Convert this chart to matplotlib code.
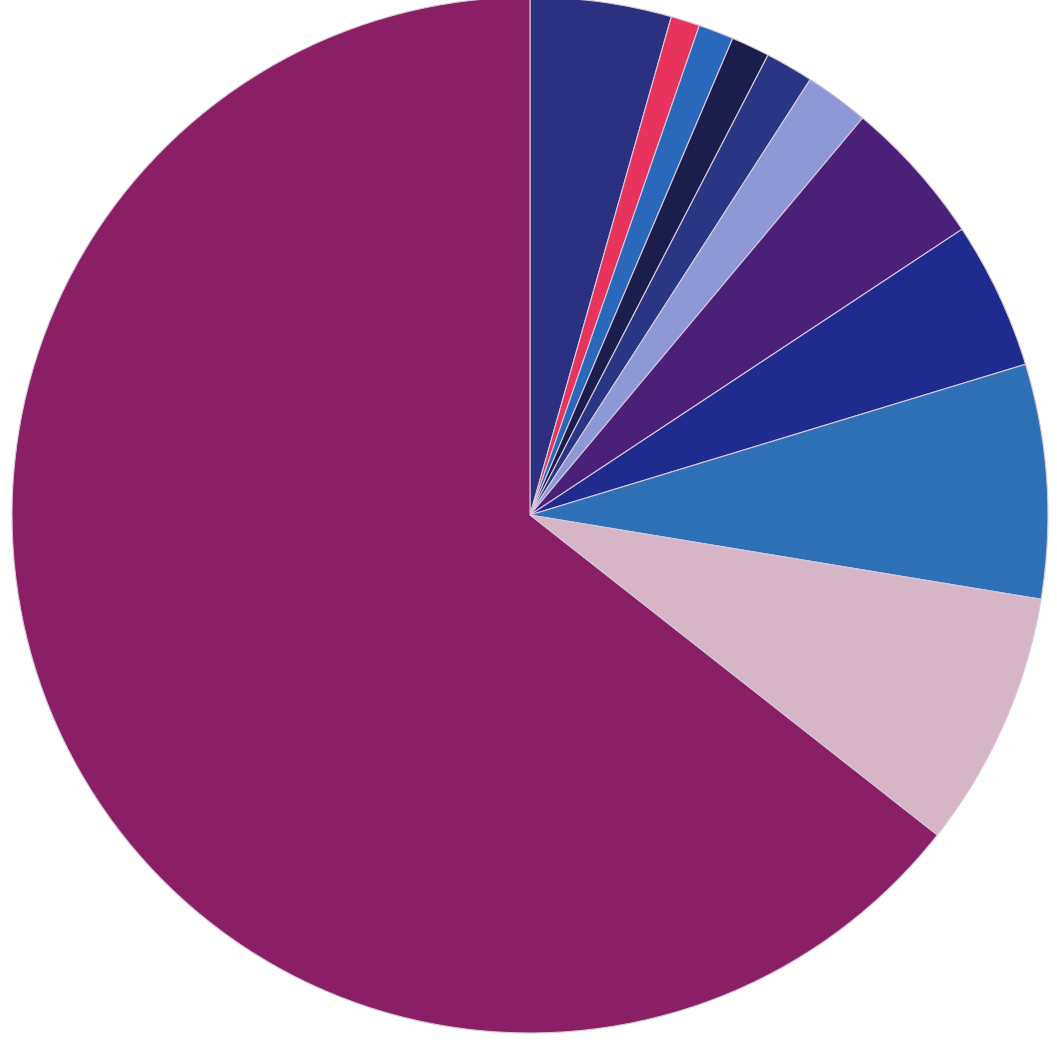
import matplotlib
matplotlib.use('Agg')
import matplotlib.pyplot as plt

# slice shares (percent), clockwise from 12 o'clock
shares = [4.4, 0.9, 1.1, 1.2, 1.5, 2.0, 4.6, 4.6, 7.3, 8.0, 64.4]
colors = ['#2b3080', '#e8345c', '#2a68bc', '#1b1d4c', '#2a3684', '#8e98d6',
          '#4a2078', '#1f2b8f', '#2e70b6', '#d6b6c6', '#8a1f66']

plt.rcParams['hatch.linewidth'] = 0.4

fig = plt.figure(figsize=(10.57, 10.42), dpi=100)
ax = fig.add_axes([0.01135, 0.00864, 0.9801, 0.9942])

wedges, _ = ax.pie(shares, colors=colors, startangle=90, counterclock=False,
                   radius=1.0, wedgeprops=dict(linewidth=0.8, edgecolor='#d8c8dc'))

ax.set_xlim(-1, 1)
ax.set_ylim(-1, 1)
ax.set_aspect('equal')
ax.axis('off')

fig.savefig('out.png', dpi=100, facecolor='white')
